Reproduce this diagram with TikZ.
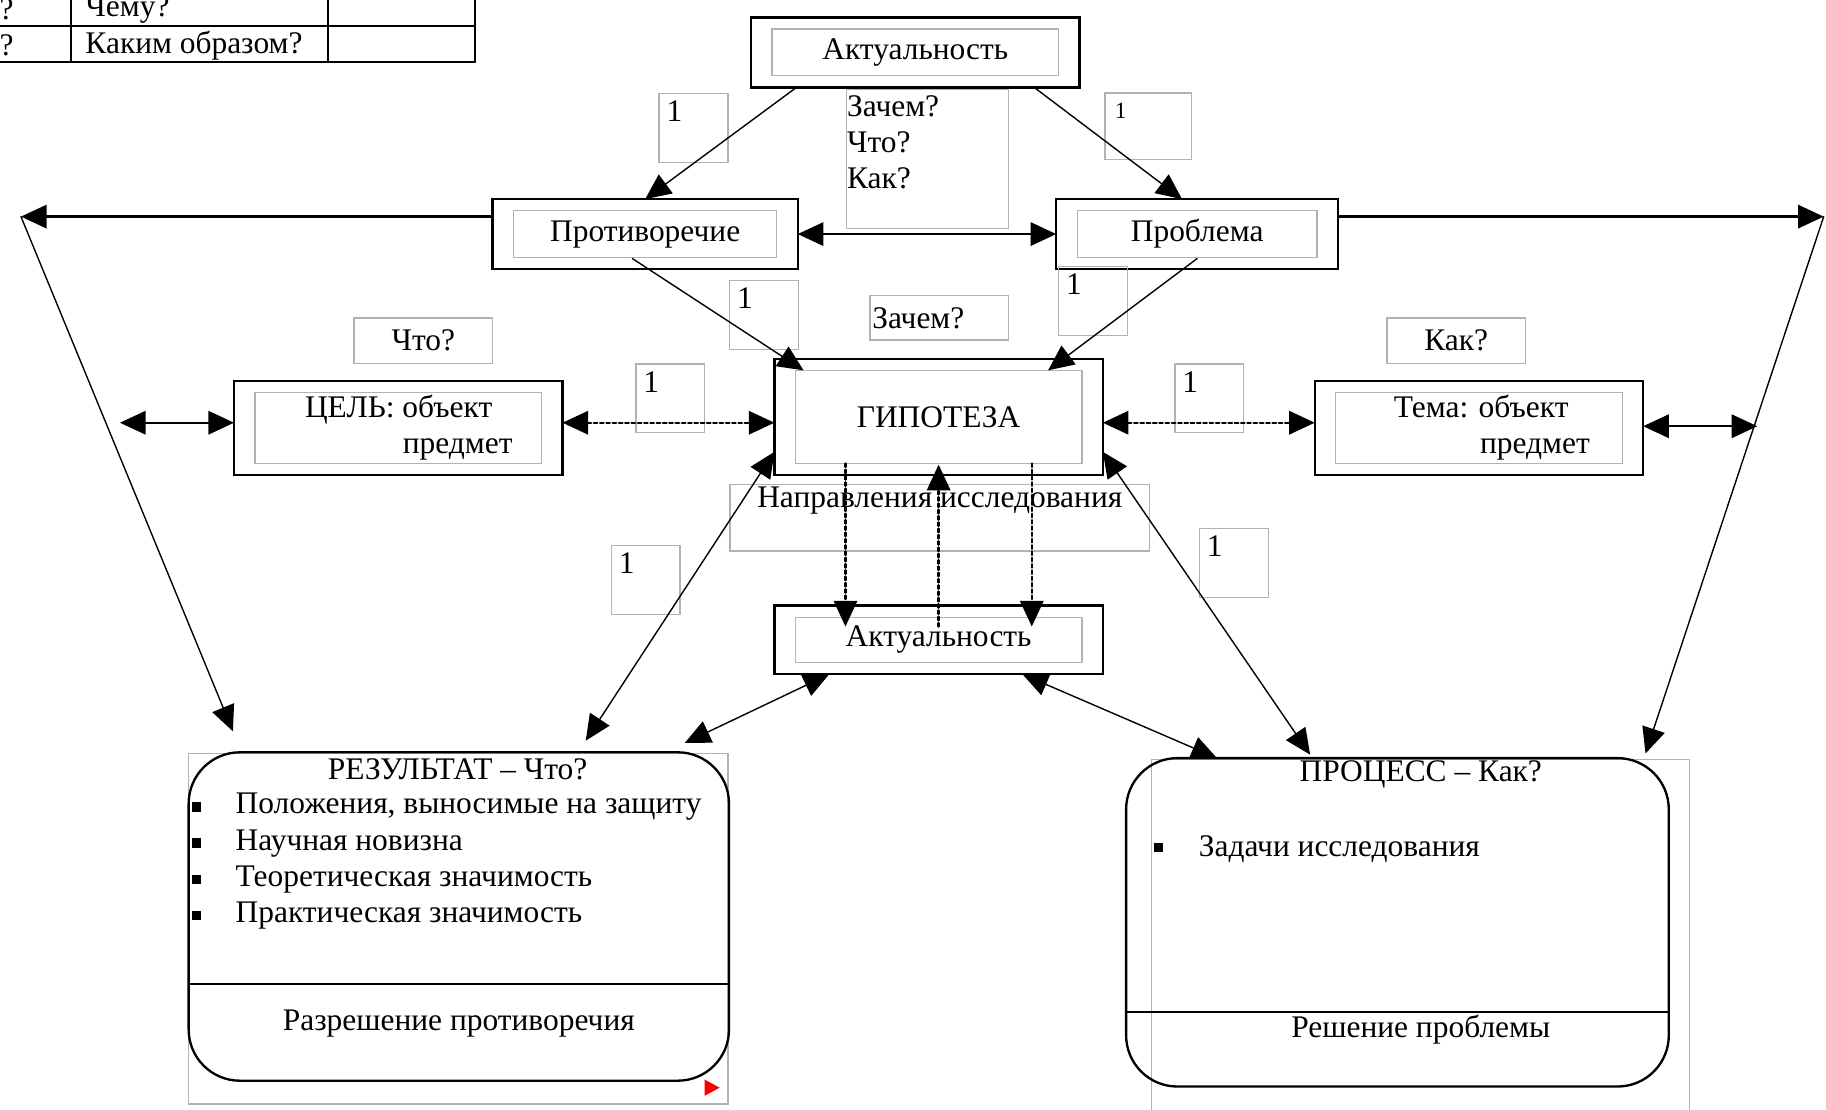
\documentclass[tikz,border=0pt]{standalone}
\usepackage{fontspec}
\setmainfont{Liberation Serif}
\usetikzlibrary{arrows.meta, positioning}

\begin{document}
\begin{tikzpicture}
% Style
[
    x=0.5pt, y=-0.5pt, line cap=round,
    every node/.style={font=\fontsize{13.5}{15.5}\selectfont},
    >={Triangle[length=11pt, width=10pt]},
    main box/.style={draw, line width=1pt, inner sep=0pt, outer sep=0pt},
    inner frame/.style={draw=black!30, line width=0.6pt},
    gray box/.style={draw=black!30, line width=0.6pt, inner sep=1pt, outer sep=0pt},
    num box/.style={gray box, minimum width=29.5pt, minimum height=29.5pt,
        label={[anchor=north west, inner sep=3pt]north west:1}},
    round box/.style={draw, line width=1pt, rounded corners=22pt, inner sep=0pt, outer sep=0pt},
    link/.style={line width=0.6pt},
    important link/.style={line width=1pt},
    dotted link/.style={line width=1pt, dash pattern=on 1.5pt off 1.2pt},
    bullet/.style={fill, inner sep=0pt, minimum size=4pt},
    item text/.style={anchor=west, inner sep=0pt}
]

% Define: Params
\newcommand{\framedx}{18} %inner_dx
\newcommand{\framedy}{10} %inner_dy

%================================== Prepare ==================================
\newcommand{\drawblock}[6]{
    % Draw: block with inner frame
    \node[main box, minimum width=#4*0.5pt, minimum height=#5*0.5pt, align=left] (#1) at (#2,#3) {#6};
    \draw[inner frame] ([shift={(\framedx,\framedy)}]#1.north west) rectangle ([shift={(-\framedx,-\framedy)}]#1.south east);
}

%=================================== Start ===================================
{
    % Define: Frame
    \useasboundingbox (0,0) rectangle (1568,953);
    \fill[white] (0,0) rectangle (1568,953);
    \clip (0,0) rectangle (1568,953);

    % Draw: Table
    \foreach \y in {22, 53} {
        \draw[line width=0.8pt] (0,\y) -- (408,\y);
    }
    \foreach \x in {61, 282, 408} {
        \draw[line width=0.8pt] (\x,-10) -- (\x,53);
    }
    \node[anchor=east, inner sep=0pt] (tabwhy) at (12,8) {Зачем?};
    \node[anchor=west, inner sep=0pt] (tabwhom) at (73,8) {Чему?};
    \node[anchor=east, inner sep=0pt] (tabhow) at (12,39) {Как?};
    \node[anchor=west, inner sep=0pt] (tabway) at (73,39) {Каким образом?};

    % Draw: Blocks
    \drawblock{akt}{786}{45}{282}{60}{Актуальность}
    \drawblock{protiv}{554}{201}{262}{60}{Противоречие}
    \drawblock{probl}{1028}{201}{242}{60}{Проблема}
    \drawblock{cel}{342}{367.5}{282}{81}{\hspace*{9pt}ЦЕЛЬ: объект\\\hspace*{51pt}предмет}
    \drawblock{gip}{806}{358}{282}{100}{ГИПОТЕЗА}
    \drawblock{tema}{1270}{367.5}{282}{81}{\hspace*{11pt}Тема: объект\\\hspace*{48pt}предмет}
    \drawblock{aktb}{806}{549.5}{282}{59}{Актуальность}

    % Draw: Notes
    \node[gray box, minimum width=69.5pt, minimum height=59.5pt] (why) at (796.5,136.5) {};
    \node[anchor=north west, inner sep=0pt, align=left] (whytext) at ([shift={(0,5)}]why.north west) {Зачем?\\Что?\\Как?};
    \node[gray box, minimum width=59.5pt, minimum height=19pt, text width=57.5pt, align=left] (zachem) at (806.5,273) {Зачем?};
    \node[gray box, minimum width=59.5pt, minimum height=19.5pt] (chto) at (363.5,292.5) {Что?};
    \node[gray box, minimum width=59.5pt, minimum height=19.5pt] (kak) at (1250.5,292.5) {Как?};
    \node[gray box, minimum width=180pt, minimum height=28.5pt] (napr) at (807,444.5) {};
    \node[inner sep=0pt] (naprtext) at (807,430) {Направления исследования};

    \foreach \x / \y [count=\i] in {595.5/110, 656/270.5, 938.5/258.5, 575.5/342, 1038.5/342, 554.5/498, 1059.5/483.5} {
        \node[num box] (one\i) at (\x,\y) {};
    }
    \node[gray box, minimum width=37pt, minimum height=28.5pt,
        label={[anchor=north west, inner sep=4pt, font=\fontsize{10}{12}\selectfont]north west:1}] (onetop) at (986,108.5) {};

    % Draw: Result
    \draw[inner frame] (162,647) rectangle (625,948);
    \node[round box, minimum width=232pt, minimum height=141pt] (res) at (394,787) {};
    \draw[important link] ([shift={(0,58)}]res.west) -- ([shift={(0,58)}]res.east);
    \node (restitle) at (393,661) {РЕЗУЛЬТАТ – Что?};
    \foreach \y / \txt [count=\i] in {693/{Положения, выносимые на защиту}, 724/{Научная новизна}, 755/{Теоретическая значимость}, 786/{Практическая значимость}} {
        \node[bullet] (resb\i) at (169,\y) {};
        \node[item text] (resi\i) at (202,\y) {\txt};
    }
    \node (resend) at (394,879) {Разрешение противоречия};
    \fill[red] (605,927) -- (618,934) -- (605,941) -- cycle;

    % Draw: Process
    \draw[inner frame] (989,652) rectangle (1451,960);
    \node[round box, minimum width=233pt, minimum height=141pt] (proc) at (1200,792) {};
    \draw[important link] ([shift={(0,77)}]proc.west) -- ([shift={(0,77)}]proc.east);
    \node (proctitle) at (1220,665) {ПРОЦЕСС – Как?};
    \node[bullet] (procb) at (995,728) {};
    \node[item text] (proci) at (1029,729) {Задачи исследования};
    \node (procend) at (1220,884) {Решение проблемы};

    % Draw: Links
    \coordinate (cornerL) at (18,186);
    \coordinate (cornerR) at (1566,186);
    \coordinate (celL) at (103,363);
    \coordinate (temaR) at (1509,366);
    \coordinate (dotL) at ([shift={(0,-4.5)}]cel.east);
    \coordinate (dotR) at ([shift={(0,-4.5)}]tema.west);

    \draw[link, ->] ([shift={(-102,0)}]akt.south) -- (protiv.north);
    \draw[link, ->] ([shift={(102,0)}]akt.south) -- ([shift={(-13,0)}]probl.north);
    \draw[important link, <->] (protiv.east) -- (probl.west);
    \draw[important link, ->] ([shift={(0,-15)}]protiv.west) -- (cornerL);
    \draw[important link, ->] ([shift={(0,-15)}]probl.east) -- (cornerR);
    \draw[link, ->] (cornerL) -- ([shift={(38,-18)}]res.north west);
    \draw[link, ->] (cornerR) -- ([shift={(-20,-4)}]proc.north east);
    \draw[link, ->] ([shift={(-11,21)}]protiv.center) -- ([shift={(25,10)}]gip.north west);
    \draw[link, ->] ([shift={(0,21)}]probl.center) -- ([shift={(-47,10)}]gip.north east);
    \draw[important link, <->] (celL) -- (cel.west |- celL);
    \draw[important link, <->] (tema.east |- temaR) -- (temaR);
    \draw[dotted link, <->] (dotL) -- (dotL -| gip.west);
    \draw[dotted link, <->] (dotR -| gip.east) -- (dotR);
    \draw[dotted link, ->] ([shift={(-80,-10)}]gip.south) -- ([shift={(-80,18)}]aktb.north);
    \draw[dotted link, ->] ([shift={(80,-10)}]gip.south) -- ([shift={(80,18)}]aktb.north);
    \draw[dotted link, ->] ([shift={(0,18)}]aktb.north) -- ([shift={(0,-9)}]gip.south);
    \draw[link, <->] ([shift={(47,0)}]aktb.south west) -- ([shift={(-38,-8)}]res.north east);
    \draw[link, <->] ([shift={(-69,0)}]aktb.south east) -- ([shift={(78,0)}]proc.north west);
    \draw[link, <->] ([shift={(0,-20)}]gip.south west) -- ([shift={(341,-10)}]res.north west);
    \draw[link, <->] ([shift={(0,-20)}]gip.south east) -- ([shift={(158,-3)}]proc.north west);
}
%==================================== END ====================================

\end{tikzpicture}
\end{document}
